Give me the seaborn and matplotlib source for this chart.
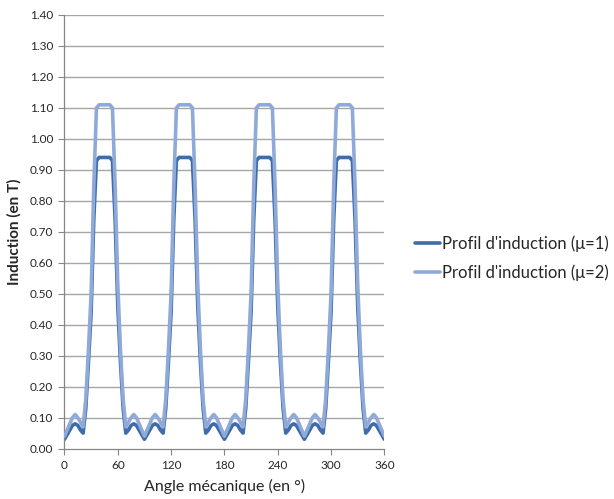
import numpy as np
import pandas as pd
import matplotlib
matplotlib.use("Agg")
import matplotlib.pyplot as plt
import seaborn as sns

# mechanical angle (deg), sampled every 3 degrees
angle = list(range(0, 361, 3))

# induction profile, mu = 1 (one row per 90 deg period)
b_mu1 = [
    0.03, 0.045, 0.06, 0.075, 0.08, 0.075, 0.06, 0.05, 0.13, 0.28, 0.44, 0.74, 0.93, 0.94, 0.94,
    0.94, 0.94, 0.94, 0.93, 0.74, 0.46, 0.28, 0.13, 0.05, 0.06, 0.075, 0.08, 0.075, 0.06, 0.045,
    0.03, 0.045, 0.06, 0.075, 0.08, 0.075, 0.06, 0.05, 0.13, 0.28, 0.44, 0.74, 0.93, 0.94, 0.94,
    0.94, 0.94, 0.94, 0.93, 0.74, 0.46, 0.28, 0.13, 0.05, 0.06, 0.075, 0.08, 0.075, 0.06, 0.045,
    0.03, 0.045, 0.06, 0.075, 0.08, 0.075, 0.06, 0.05, 0.13, 0.28, 0.44, 0.74, 0.93, 0.94, 0.94,
    0.94, 0.94, 0.94, 0.93, 0.74, 0.46, 0.28, 0.13, 0.05, 0.06, 0.075, 0.08, 0.075, 0.06, 0.045,
    0.03, 0.045, 0.06, 0.075, 0.08, 0.075, 0.06, 0.05, 0.13, 0.28, 0.44, 0.74, 0.93, 0.94, 0.94,
    0.94, 0.94, 0.94, 0.93, 0.74, 0.46, 0.28, 0.13, 0.05, 0.06, 0.075, 0.08, 0.075, 0.06, 0.045,
    0.03,
]

# induction profile, mu = 2
b_mu2 = [
    0.04, 0.06, 0.08, 0.10, 0.11, 0.10, 0.085, 0.07, 0.16, 0.32, 0.50, 0.85, 1.10, 1.11, 1.11,
    1.11, 1.11, 1.11, 1.10, 0.85, 0.53, 0.32, 0.16, 0.07, 0.085, 0.10, 0.11, 0.10, 0.08, 0.06,
    0.04, 0.06, 0.08, 0.10, 0.11, 0.10, 0.085, 0.07, 0.16, 0.32, 0.50, 0.85, 1.10, 1.11, 1.11,
    1.11, 1.11, 1.11, 1.10, 0.85, 0.53, 0.32, 0.16, 0.07, 0.085, 0.10, 0.11, 0.10, 0.08, 0.06,
    0.04, 0.06, 0.08, 0.10, 0.11, 0.10, 0.085, 0.07, 0.16, 0.32, 0.50, 0.85, 1.10, 1.11, 1.11,
    1.11, 1.11, 1.11, 1.10, 0.85, 0.53, 0.32, 0.16, 0.07, 0.085, 0.10, 0.11, 0.10, 0.08, 0.06,
    0.04, 0.06, 0.08, 0.10, 0.11, 0.10, 0.085, 0.07, 0.16, 0.32, 0.50, 0.85, 1.10, 1.11, 1.11,
    1.11, 1.11, 1.11, 1.10, 0.85, 0.53, 0.32, 0.16, 0.07, 0.085, 0.10, 0.11, 0.10, 0.08, 0.06,
    0.04,
]

labels = ["Profil d'induction (\u03bc=1)", "Profil d'induction (\u03bc=2)"]
colors = ["#3E6DAA", "#8FAAD9"]
x_ticks = [0, 60, 120, 180, 240, 300, 360]
y_ticks = [round(0.1 * i, 2) for i in range(15)]

sns.set_style("white")
plt.rcParams['font.family'] = ['Lato', 'DejaVu Sans']

fig = plt.figure(figsize=(6.14, 4.99), dpi=100)
ax = fig.add_axes([0.105, 0.101, 0.521, 0.869])

ax.set_yticks(y_ticks)
for y in y_ticks[1:]:
    ax.axhline(y, color="#A6A6A6", lw=1, zorder=0)

# series 2 is drawn over series 1, as in the original
sns.lineplot(x=angle, y=b_mu1, ax=ax, color=colors[0], lw=2.6, label=labels[0], zorder=2)
sns.lineplot(x=angle, y=b_mu2, ax=ax, color=colors[1], lw=2.6, label=labels[1], zorder=3)

ax.set_xlim(0, 360)
ax.set_ylim(0, 1.4)
ax.set_xticks(x_ticks)
ax.set_yticklabels([f"{v:.2f}" for v in y_ticks])
ax.tick_params(axis="both", direction="out", length=4, width=0.8, color="#868686",
               labelsize=8.5, pad=4)
ax.tick_params(axis="x", bottom=True)
ax.tick_params(axis="y", left=True)
for s in ["top", "right"]:
    ax.spines[s].set_visible(False)
for s in ["left", "bottom"]:
    ax.spines[s].set_color("#868686")
    ax.spines[s].set_linewidth(0.9)

ax.set_xlabel("Angle m\u00e9canique (en \u00b0)", fontsize=11.5, labelpad=6)
ax.set_ylabel("Induction (en T)", fontsize=11, fontweight="bold", labelpad=6)

ax.legend(loc="center left", bbox_to_anchor=(1.095, 0.44), frameon=False,
          fontsize=12, handlelength=1.5, handletextpad=0.15, labelspacing=0.75,
          borderaxespad=0, borderpad=0)

fig.savefig("out.png", dpi=100)
